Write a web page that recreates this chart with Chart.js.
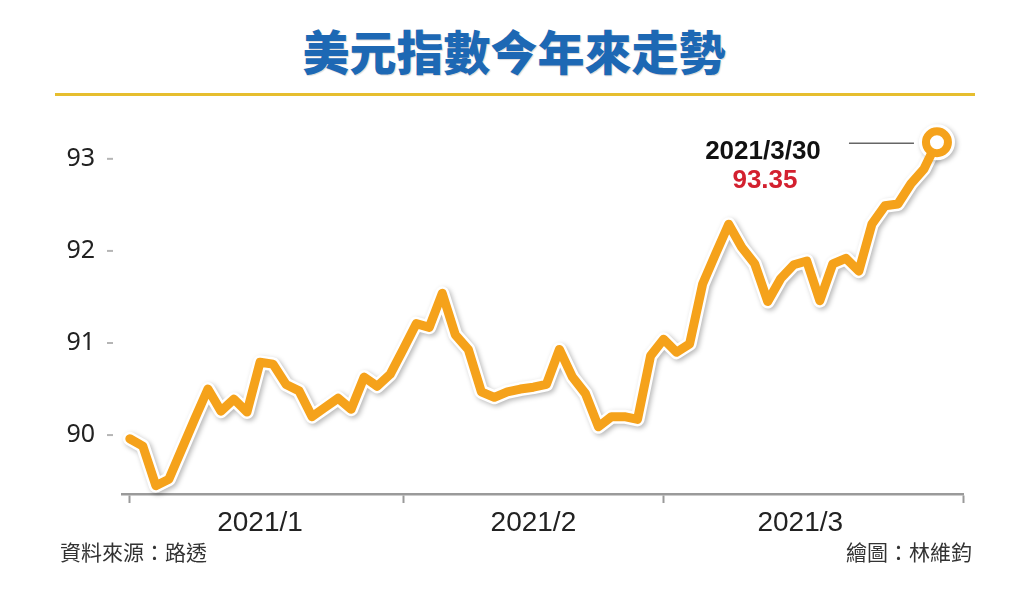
<!DOCTYPE html>
<html>
<head>
<meta charset="utf-8">
<script src="https://cdn.jsdelivr.net/npm/chart.js@4/dist/chart.umd.min.js"></script>
<style>
    body { margin: 0; background: #fff; }
    #wrap { position: relative; width: 1024px; height: 612px; overflow: hidden; background: #fff; }
    #title {
        position: absolute; left: 2px; top: 20px; width: 1024px; text-align: center;
        font: 900 47px "Noto Sans CJK TC", sans-serif; line-height: 60px; color: #1d68b4;
        text-shadow: 1px 1px 1px rgba(0, 0, 0, 0.15);
    }
    #rule { position: absolute; left: 55px; top: 93px; width: 920px; height: 3px; background: #e6be2e; }
    .note { position: absolute; top: 536px; font: 21px "Noto Sans CJK TC", sans-serif; color: #333; }
    #source { left: 60px; }
    #credit { right: 52px; }
    canvas { position: absolute; left: 0; top: 0; }
</style>
</head>
<body>
<div id="wrap">
    <div id="title">美元指數今年來走勢</div>
    <div id="rule"></div>
    <canvas id="dxyChart" width="1024" height="612"></canvas>
    <div id="source" class="note">資料來源：路透</div>
    <div id="credit" class="note">繪圖：林維鈞</div>
</div>
<script>
// trading days from 2021/1/1 to 2021/3/30, index = x position
const dxyValues = [
    89.96, 89.88, 89.45, 89.52, 89.85, 90.18, 90.50, 90.26, 90.39, 90.25,
    90.79, 90.77, 90.55, 90.48, 90.20, 90.30, 90.40, 90.28, 90.63, 90.53,
    90.66, 90.93, 91.21, 91.17, 91.54, 91.09, 90.93, 90.47, 90.41, 90.47,
    90.50, 90.52, 90.55, 90.93, 90.63, 90.45, 90.09, 90.20, 90.20, 90.17,
    90.86, 91.04, 90.90, 90.99, 91.64, 91.97, 92.29, 92.04, 91.86, 91.45,
    91.70, 91.85, 91.89, 91.46, 91.86, 91.92, 91.78, 92.29, 92.49, 92.51,
    92.73, 92.89, 93.18
];

const yTicks = [90, 91, 92, 93];
const monthStarts = [0, 21, 41, 64];
const monthCenters = [10, 31, 51.5];
const monthLabels = ['2021/1', '2021/2', '2021/3'];

const lastDateLabel = '2021/3/30';
const lastValueLabel = '93.35';

const orange = '#f5a21b';
const lastIdx = dxyValues.length - 1;
const points = dxyValues.map((v, i) => ({ x: i, y: v }));

// white halo gets a soft drop shadow
const shadowPlugin = {
    id: 'halo',
    beforeDatasetDraw(chart, args) {
        if (args.index !== 1) return;
        const c = chart.ctx;
        c.save();
        c.shadowColor = 'rgba(0, 0, 0, 0.28)';
        c.shadowBlur = 5;
        c.shadowOffsetX = 2;
        c.shadowOffsetY = 2;
    },
    afterDatasetDraw(chart, args) {
        if (args.index !== 1) return;
        chart.ctx.restore();
    }
};

// small dashes next to the y labels
const yDashPlugin = {
    id: 'yDash',
    afterDraw(chart) {
        const c = chart.ctx;
        const y = chart.scales.y;
        c.save();
        c.strokeStyle = '#b5b5b5';
        c.lineWidth = 2;
        yTicks.forEach(t => {
            const py = y.getPixelForValue(t);
            c.beginPath();
            c.moveTo(107, py);
            c.lineTo(113, py);
            c.stroke();
        });
        c.restore();
    }
};

// callout for the last value
const calloutPlugin = {
    id: 'callout',
    afterDatasetsDraw(chart) {
        const c = chart.ctx;
        const px = chart.scales.x.getPixelForValue(lastIdx);
        const py = chart.scales.y.getPixelForValue(dxyValues[lastIdx]);
        c.save();
        c.strokeStyle = '#666';
        c.lineWidth = 1.5;
        c.beginPath();
        c.moveTo(px - 88, py + 1);
        c.lineTo(px - 23, py + 1);
        c.stroke();
        c.textAlign = 'center';
        c.textBaseline = 'middle';
        c.fillStyle = '#111';
        c.font = 'bold 26px "Liberation Sans Narrow", "Liberation Sans", sans-serif';
        c.fillText(lastDateLabel, px - 174, py + 10);
        c.fillStyle = '#d3202f';
        c.font = 'bold 26px "Liberation Sans Narrow", "Liberation Sans", sans-serif';
        c.fillText(lastValueLabel, px - 172, py + 39);
        c.restore();
    }
};

const ctx = document.getElementById('dxyChart').getContext('2d');

new Chart(ctx, {
    type: 'line',
    data: {
        datasets: [
            {
                label: '美元指數',
                data: points,
                borderColor: orange,
                borderWidth: 9,
                borderJoinStyle: 'round',
                borderCapStyle: 'round',
                pointRadius: c => c.dataIndex === lastIdx ? 11 : 0,
                pointBorderWidth: 8,
                pointBorderColor: orange,
                pointBackgroundColor: '#fff',
                tension: 0,
                clip: false,
                order: 0
            },
            {
                label: 'halo',
                data: points,
                borderColor: '#fff',
                borderWidth: 14,
                borderJoinStyle: 'round',
                borderCapStyle: 'round',
                pointRadius: c => c.dataIndex === lastIdx ? 11 : 0,
                pointBorderWidth: 14,
                pointBorderColor: '#fff',
                pointBackgroundColor: '#fff',
                tension: 0,
                clip: false,
                order: 1
            }
        ]
    },
    options: {
        responsive: false,
        animation: false,
        events: [],
        layout: {
            padding: { left: 0, right: 61, top: 122, bottom: 78 }
        },
        plugins: {
            legend: { display: false },
            tooltip: { enabled: false }
        },
        scales: {
            x: {
                type: 'linear',
                min: -0.6,
                max: 64,
                afterBuildTicks: scale => {
                    scale.ticks = [...monthStarts, ...monthCenters]
                        .sort((a, b) => a - b)
                        .map(v => ({ value: v }));
                },
                afterFit: scale => { scale.height = 40; },
                border: { display: true, color: '#9a9a9a', width: 2.5 },
                grid: {
                    drawOnChartArea: false,
                    drawTicks: true,
                    tickLength: 9,
                    tickWidth: 2,
                    tickColor: c => (c.tick && monthStarts.includes(c.tick.value)) ? '#9a9a9a' : 'rgba(0,0,0,0)'
                },
                ticks: {
                    autoSkip: false,
                    maxRotation: 0,
                    minRotation: 0,
                    padding: 3,
                    color: '#222',
                    font: { family: '"Liberation Sans Narrow", "Liberation Sans", sans-serif', size: 28 },
                    callback: v => {
                        const k = monthCenters.indexOf(v);
                        return k >= 0 ? monthLabels[k] : '';
                    }
                }
            },
            y: {
                min: 89.36,
                max: 93.4,
                afterBuildTicks: scale => {
                    scale.ticks = yTicks.map(v => ({ value: v }));
                },
                afterFit: scale => { scale.width = 122; },
                border: { display: false },
                grid: { display: false },
                ticks: {
                    padding: 19,
                    color: '#222',
                    font: { family: '"Noto Sans", sans-serif', size: 25 }
                }
            }
        }
    },
    plugins: [shadowPlugin, yDashPlugin, calloutPlugin]
});
</script>
</body>
</html>
